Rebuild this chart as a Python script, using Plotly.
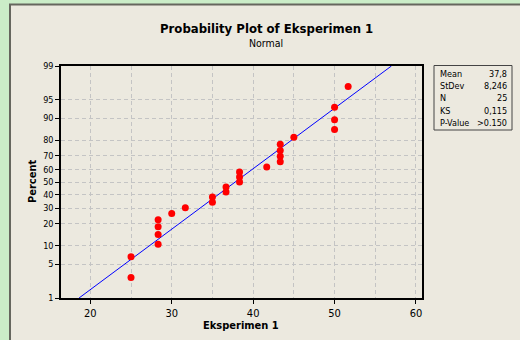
import plotly.graph_objects as go
from statistics import NormalDist

# ---- data ----
values = [25, 25, 28.33, 28.33, 28.33, 28.33, 30, 31.67, 35, 35, 36.67, 36.67,
          38.33, 38.33, 38.33, 41.67, 43.33, 43.33, 43.33, 43.33, 45, 50, 50, 50, 51.67]
percents = [2.76, 6.69, 10.63, 14.57, 18.50, 22.44, 26.38, 30.31, 34.25, 38.19,
            42.13, 46.06, 50.00, 53.94, 57.87, 61.81, 65.75, 69.69, 73.62, 77.56,
            81.50, 85.43, 89.37, 93.31, 97.24]
mean = 37.8
stdev = 8.246
y_ticks = [1, 5, 10, 20, 30, 40, 50, 60, 70, 80, 90, 95, 99]
x_ticks = [20, 30, 40, 50, 60]
stat_labels = ["Mean", "StDev", "N", "KS", "P-Value"]
stat_values = ["37,8", "8,246", "25", "0,115", ">0.150"]

nd = NormalDist()
def z(p):
    return nd.inv_cdf(p / 100.0)

W, H = 520, 340
L, R, T, B = 61, 98, 66, 42
PW, PH = W - L - R, H - T - B
def px(xp):
    return (xp - L) / PW
def py(yp):
    return (H - B - yp) / PH

FONT = "Tahoma, DejaVu Sans Condensed, DejaVu Sans, sans-serif"
BEIGE = "#ECE9DF"

fig = go.Figure()

line_p = [y_ticks[0], y_ticks[-1]]
fig.add_trace(go.Scatter(
    x=[mean + stdev * z(p) for p in line_p], y=[z(p) for p in line_p],
    mode="lines", line=dict(color="#0000FF", width=1), hoverinfo="skip"))
fig.add_trace(go.Scatter(
    x=values, y=[z(p) for p in percents], mode="markers",
    marker=dict(color="#FF0000", size=7, line=dict(width=0))))

grid = dict(showgrid=True, gridcolor="#C4C4C4", gridwidth=1, griddash="4px,3px")
fig.update_xaxes(range=[16.4, 60.74], tickvals=x_ticks, ticks="outside", ticklen=4,
                 tickcolor="black", showline=True, linecolor="black", linewidth=1.5,
                 mirror=True, zeroline=False, tickfont=dict(family=FONT, size=11, color="black"),
                 minor=dict(dtick=5, tick0=0, showgrid=True, gridcolor="#C4C4C4",
                            griddash="4px,3px", ticks=""),
                 **grid)
fig.update_yaxes(range=[z(1), z(99)], tickvals=[z(p) for p in y_ticks],
                 ticktext=[str(p) for p in y_ticks], ticks="outside", ticklen=4,
                 tickcolor="black", showline=True, linecolor="black", linewidth=1.5,
                 mirror=True, zeroline=False, tickfont=dict(family=FONT, size=9, color="black"),
                 **grid)

shapes = [
    dict(type="rect", xref="paper", yref="paper", x0=px(10), x1=px(530), y0=py(4.5), y1=py(350),
         fillcolor=BEIGE, line=dict(color="#66665E", width=2), layer="below"),
    dict(type="rect", xref="paper", yref="paper", x0=px(434), x1=px(512), y0=py(65.5), y1=py(130),
         fillcolor=BEIGE, line=dict(color="#444444", width=1)),
]
ann = [
    dict(text="<b>Probability Plot of Eksperimen 1</b>", x=px(266), y=py(29),
         font=dict(family=FONT, size=13, color="black")),
    dict(text="Normal", x=px(266), y=py(43), font=dict(family=FONT, size=10.5, color="black")),
    dict(text="<b>Eksperimen 1</b>", x=px(241), y=py(325), font=dict(family=FONT, size=11, color="black")),
    dict(text="<b>Percent</b>", x=px(32), y=py(182), textangle=-90,
         font=dict(family=FONT, size=11, color="black")),
]
rows = [74, 86, 98, 110.5, 122.5]
for lab, val, yy in zip(stat_labels, stat_values, rows):
    ann.append(dict(text=lab, x=px(438.5), y=py(yy), xanchor="left",
                    font=dict(family=FONT, size=9, color="black")))
    ann.append(dict(text=val, x=px(508.5), y=py(yy), xanchor="right",
                    font=dict(family=FONT, size=9, color="black")))
for a in ann:
    a.setdefault("xanchor", "center")
    a.update(xref="paper", yref="paper", yanchor="middle", showarrow=False)

fig.update_layout(width=W, height=H, margin=dict(l=L, r=R, t=T, b=B),
                  paper_bgcolor="#CBEDC8", plot_bgcolor="white", showlegend=False,
                  shapes=shapes, annotations=ann)
fig.write_html("out.html")
